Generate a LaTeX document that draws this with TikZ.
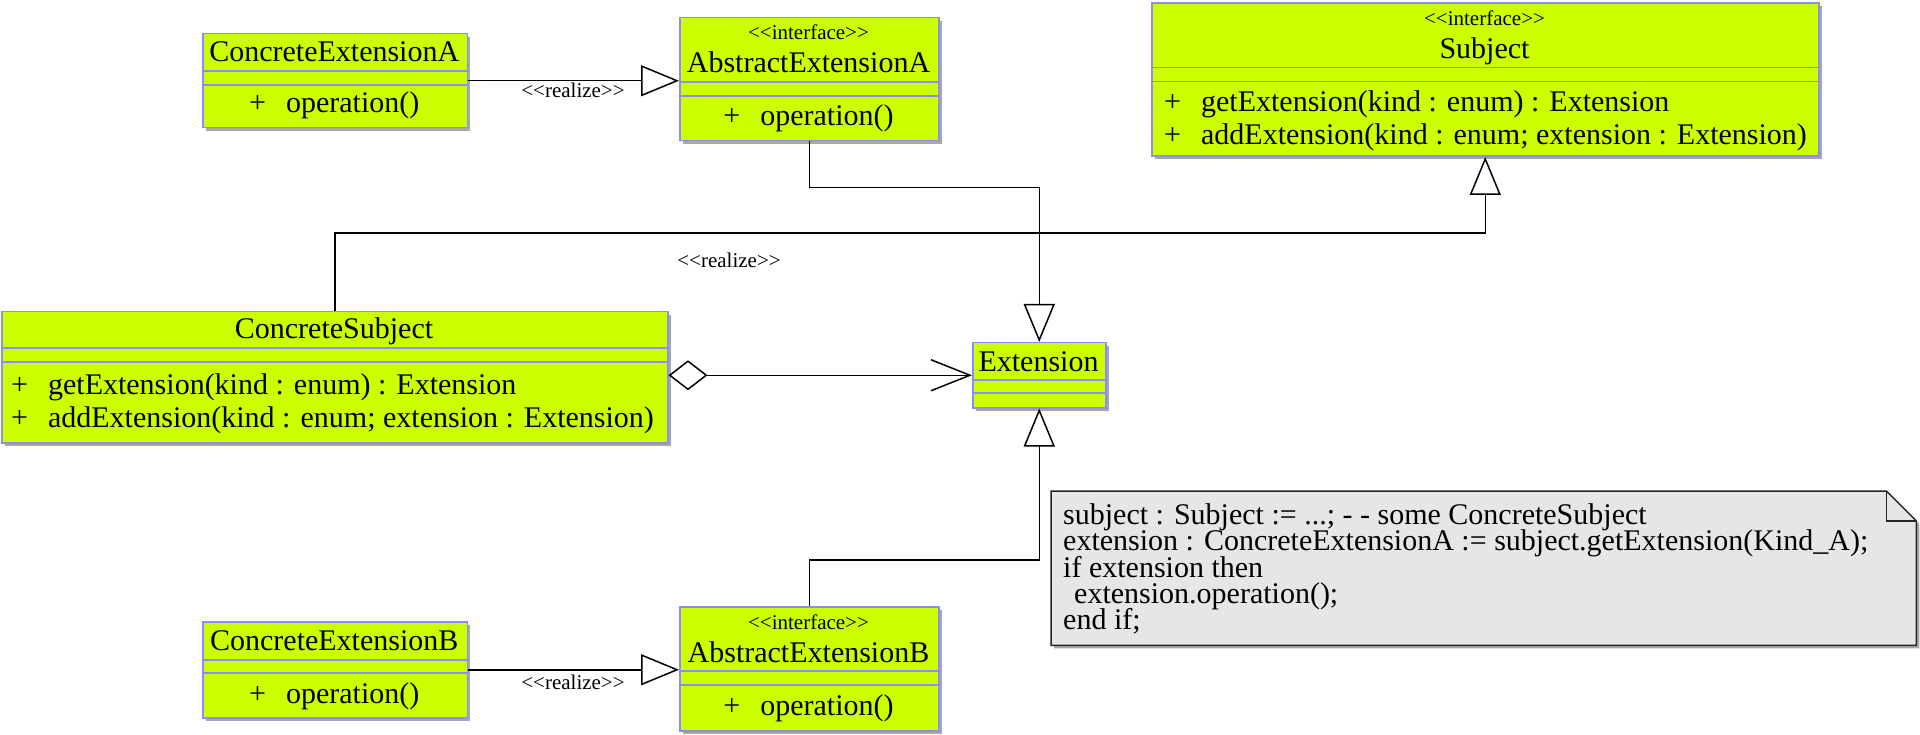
\documentclass[tikz,border=0pt]{standalone}
\usepackage{fontspec}
\setmainfont{Liberation Serif}
\usetikzlibrary{arrows.meta,shadows,calc}
\definecolor{classfill}{HTML}{CCFF00}
\definecolor{classborder}{HTML}{8C8CFF}
\definecolor{notefill}{HTML}{E6E6E6}
\definecolor{shadowgray}{HTML}{A8A8A8}
\newcommand\stl{<\kern0pt<}
\newcommand\stg{>\kern0pt>}
\begin{document}
\begin{tikzpicture}[x=1pt,y=-1pt,
  classbox/.style={draw=classborder, fill=classfill, line width=1.5pt, inner sep=0pt, anchor=north west,
    drop shadow={shadow xshift=3pt, shadow yshift=-3pt, fill=shadowgray, opacity=1}},
  sepline/.style={draw=classborder, line width=1.5pt},
  nm/.style={font=\fontsize{30}{36}\selectfont, inner sep=0pt, anchor=base},
  mth/.style={font=\fontsize{30}{36}\selectfont, inner sep=0pt, anchor=base west},
  st/.style={font=\fontsize{21}{25}\selectfont, inner sep=0pt, anchor=base},
  notetext/.style={font=\fontsize{30}{26}\selectfont, inner sep=0pt, anchor=base west},
  conn/.style={draw=black, line width=1.5pt},
  gen/.style={conn, -{Triangle[open, length=38pt, width=31pt]}},
  agg/.style={conn, {Diamond[open, length=39pt, width=30pt]}-{Straight Barb[length=39pt, width=31pt]}},
  noteline/.style={draw=black!85, line width=1.5pt},
]
\fill[white] (0,0) rectangle (1920,735);
\useasboundingbox (0,0) rectangle (1920,735);

% ---------- ConcreteExtensionA
\node[classbox, minimum width=264.5pt, minimum height=94pt] (cea) at (202,33) {};
\draw[sepline] (202,71) -- (466.5,71);
\draw[sepline] (202,85) -- (466.5,85);
\node[nm] (ceaname) at (334.25,62) {ConcreteExtensionA};
\node[nm] (ceaop) at (334.25,113) {+\hspace{20pt}operation()};

% ---------- AbstractExtensionA
\node[classbox, minimum width=259pt, minimum height=123pt] (aea) at (679,17) {};
\draw[sepline] (679,82) -- (938,82);
\draw[sepline] (679,96) -- (938,96);
\node[st] (aeast) at (808.5,40) {\stl interface\stg};
\node[nm] (aeaname) at (808.5,72.5) {AbstractExtensionA};
\node[nm] (aeaop) at (808.5,126) {+\hspace{20pt}operation()};

% ---------- Subject
\node[classbox, minimum width=667pt, minimum height=153pt] (subj) at (1151,2.5) {};
\draw[sepline] (1151,67.5) -- (1818,67.5);
\draw[sepline] (1151,81.5) -- (1818,81.5);
\node[st] (subjst) at (1484.5,25.5) {\stl interface\stg};
\node[nm] (subjname) at (1484.5,58.5) {Subject};
\node[mth] (subjm1) at (1164,112) {+\hspace{20pt}getExtension(kind : enum) : Extension};
\node[mth] (subjm2) at (1164,145) {+\hspace{20pt}addExtension(kind : enum; extension : Extension)};

% ---------- ConcreteSubject
\node[classbox, minimum width=666pt, minimum height=131pt] (cs) at (1,311) {};
\draw[sepline] (1,348) -- (667,348);
\draw[sepline] (1,362) -- (667,362);
\node[nm] (csname) at (334,339) {ConcreteSubject};
\node[mth] (csm1) at (11,394) {+\hspace{20pt}getExtension(kind : enum) : Extension};
\node[mth] (csm2) at (11,427) {+\hspace{20pt}addExtension(kind : enum; extension : Extension)};

% ---------- Extension
\node[classbox, minimum width=133pt, minimum height=65pt] (ext) at (972,342) {};
\draw[sepline] (972,380) -- (1105,380);
\draw[sepline] (972,393) -- (1105,393);
\node[nm] (extname) at (1038.5,371) {Extension};

% ---------- ConcreteExtensionB
\node[classbox, minimum width=264.5pt, minimum height=96pt] (ceb) at (202,621) {};
\draw[sepline] (202,660) -- (466.5,660);
\draw[sepline] (202,673) -- (466.5,673);
\node[nm] (cebname) at (334.25,650) {ConcreteExtensionB};
\node[nm] (cebop) at (334.25,703) {+\hspace{20pt}operation()};

% ---------- AbstractExtensionB
\node[classbox, minimum width=259pt, minimum height=124pt] (aeb) at (679,606) {};
\draw[sepline] (679,671) -- (938,671);
\draw[sepline] (679,685) -- (938,685);
\node[st] (aebst) at (808.5,629) {\stl interface\stg};
\node[nm] (aebname) at (808.5,662) {AbstractExtensionB};
\node[nm] (aebop) at (808.5,715) {+\hspace{20pt}operation()};

% ---------- Note
\node[minimum width=865pt, minimum height=154pt, inner sep=0pt, anchor=north west] (note) at (1051,491) {};
\fill[shadowgray] ($(note.north west)+(3,3)$) -- ($(note.north east)+(-27,3)$) -- ($(note.north east)+(3,33)$)
  -- ($(note.south east)+(3,3)$) -- ($(note.south west)+(3,3)$) -- cycle;
\draw[noteline, fill=notefill] (note.north west) -- ($(note.north east)+(-30,0)$) -- ($(note.north east)+(0,30)$)
  -- (note.south east) -- (note.south west) -- cycle;
\draw[noteline] ($(note.north east)+(-30,0)$) -- ($(note.north east)+(-30,30)$) -- ($(note.north east)+(0,30)$);
\node[notetext] (nl1) at (1063,524) {subject : Subject := ...; - - some ConcreteSubject};
\node[notetext] (nl2) at (1063,550) {extension : ConcreteExtensionA := subject.getExtension(Kind\_A);};
\node[notetext] (nl3) at (1063,577) {if extension then};
\node[notetext] (nl4) at (1074,603) {extension.operation();};
\node[notetext] (nl5) at (1063,629) {end if;};

% ---------- Connectors
\draw[gen] (cea.east) -- (cea.east -| aea.west);
\node[st] (lbl1) at (573,98) {\stl realize\stg};

\draw[gen] (aea.south) -- ++(0,46) -| (ext.north);

\draw[gen] (cs.north) -- ++(0,-78) -| (subj.south);
\node[st] (lbl2) at (729,268) {\stl realize\stg};

\draw[agg] (cs.east |- ext.west) -- (ext.west);

\draw[gen] (aeb.north) -- ++(0,-46) -| (ext.south);

\draw[gen] (ceb.east) -- (ceb.east -| aeb.west);
\node[st] (lbl3) at (573,689) {\stl realize\stg};
\end{tikzpicture}
\end{document}
